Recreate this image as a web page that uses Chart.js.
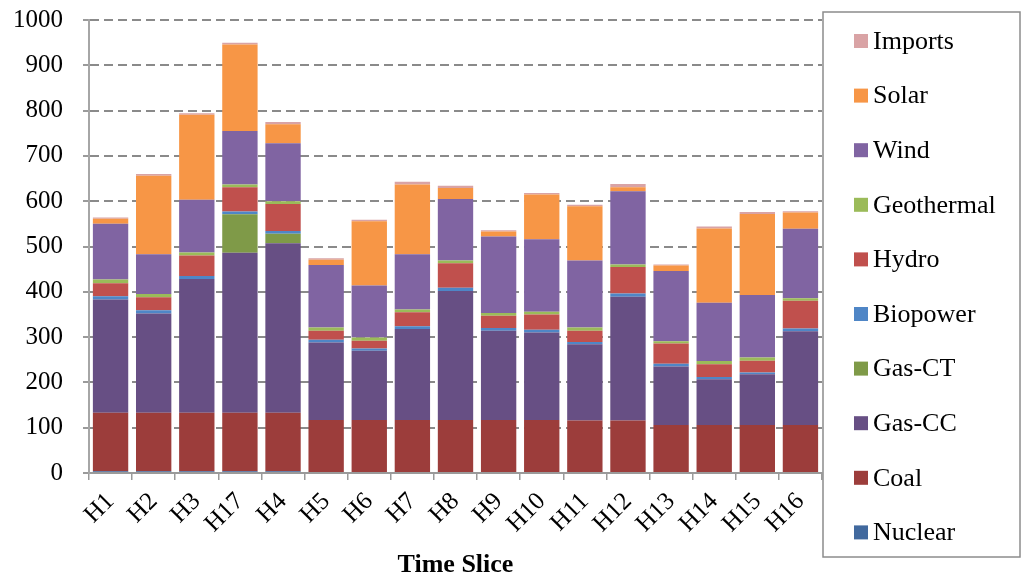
<!DOCTYPE html>
<html>
<head>
<meta charset="utf-8">
<script src="https://cdn.jsdelivr.net/npm/chart.js@4/dist/chart.umd.min.js"></script>
<style>
  body { margin: 0; background: #fff; }
  #wrap { width: 1028px; height: 578px; }
</style>
</head>
<body>
<div id="wrap"><canvas id="genChart" width="1028" height="578"></canvas></div>
<script>
// time slices, in the order they appear on the axis
const slices = ["H1", "H2", "H3", "H17", "H4", "H5", "H6", "H7", "H8", "H9", "H10", "H11", "H12", "H13", "H14", "H15", "H16"];
const yTicks = [0, 100, 200, 300, 400, 500, 600, 700, 800, 900, 1000];

// generation by technology (stacked bottom to top)
const nuclear    = [4, 4, 4, 4, 4, 2, 2, 2, 2, 2, 2, 2, 2, 2, 2, 2, 2];
const coal       = [129, 129, 129, 129, 129, 115, 115, 115, 115, 115, 115, 114, 114, 104, 104, 104, 104];
const gasCC      = [250, 219, 295, 353, 374, 171, 153, 201, 285, 197, 193, 168, 273, 129, 101, 112, 207];
const gasCT      = [0, 0, 0, 85, 21, 0, 0, 0, 0, 0, 0, 0, 0, 0, 0, 0, 0];
const biopower   = [7, 7, 7, 6, 6, 6, 5, 6, 7, 6, 6, 5, 7, 6, 5, 4, 6];
const hydro      = [29, 29, 45, 54, 60, 20, 17, 31, 54, 27, 34, 25, 59, 45, 28, 26, 61];
const geothermal = [8, 7, 7, 6, 6, 7, 7, 6, 6, 6, 6, 7, 5, 5, 7, 7, 6];
const wind       = [123, 88, 116, 118, 128, 138, 115, 122, 136, 169, 160, 148, 162, 155, 129, 138, 153];
const solar      = [11, 173, 188, 191, 42, 12, 142, 154, 24, 11, 99, 120, 9, 12, 164, 179, 36];
const imports    = [3, 4, 3, 4, 5, 3, 3, 6, 5, 3, 3, 3, 7, 2, 4, 4, 3];

const seriesNames  = ["Nuclear", "Coal", "Gas-CC", "Gas-CT", "Biopower", "Hydro", "Geothermal", "Wind", "Solar", "Imports"];
const seriesData   = [nuclear, coal, gasCC, gasCT, biopower, hydro, geothermal, wind, solar, imports];
const seriesColors = ["#41699e", "#9c3d3b", "#674f84", "#7f9a48", "#4f86c6", "#c0504d", "#9bbb59", "#8064a2", "#f79646", "#d9a3a5"];

const serif = "'Liberation Serif', 'Times New Roman', serif";

// boxed legend on the right, top entry = top of the stack
const boxLegend = {
  id: "boxLegend",
  afterDraw(chart) {
    const ctx = chart.ctx;
    const x0 = 823, y0 = 12, w = 197, h = 545;
    ctx.save();
    ctx.strokeStyle = "#8c8c8c";
    ctx.lineWidth = 1.5;
    ctx.strokeRect(x0, y0, w, h);
    ctx.font = "26px " + serif;
    ctx.textBaseline = "middle";
    ctx.fillStyle = "#000";
    const sets = chart.data.datasets.slice().reverse();
    sets.forEach(function (ds, i) {
      const cy = 41 + i * 54.6;
      ctx.fillStyle = ds.backgroundColor;
      ctx.fillRect(854, cy - 7, 14, 14);
      ctx.fillStyle = "#000";
      ctx.fillText(ds.label, 873, cy + 1);
    });
    ctx.restore();
  }
};

const ctx = document.getElementById("genChart").getContext("2d");
const genChart = new Chart(ctx, {
  type: "bar",
  data: {
    labels: slices,
    datasets: seriesNames.map(function (name, i) {
      return {
        label: name,
        data: seriesData[i],
        backgroundColor: seriesColors[i],
        borderWidth: 0,
        categoryPercentage: 0.82,
        barPercentage: 1
      };
    })
  },
  options: {
    responsive: false,
    animation: false,
    layout: { padding: { left: 0, right: 206, top: 20, bottom: 0 } },
    plugins: {
      legend: { display: false },
      tooltip: { enabled: false }
    },
    scales: {
      x: {
        stacked: true,
        grid: { drawOnChartArea: false, tickLength: 7, color: "#9a9a9a", lineWidth: 1.5 },
        border: { color: "#9a9a9a", width: 2 },
        ticks: {
          autoSkip: false,
          minRotation: 45,
          maxRotation: 45,
          padding: 7,
          color: "#000",
          font: { family: serif, size: 25 }
        },
        title: {
          display: true,
          text: "Time Slice",
          color: "#000",
          padding: { top: 0, bottom: 0 },
          font: { family: serif, size: 26, weight: "bold", lineHeight: 1 }
        },
        afterFit: function (scale) { scale.height = 105; }
      },
      y: {
        stacked: true,
        min: 0,
        max: 1000,
        afterBuildTicks: function (scale) {
          scale.ticks = yTicks.map(function (v) { return { value: v }; });
        },
        grid: { color: "#8a8a8a", lineWidth: 2, tickLength: 6, tickColor: "#9a9a9a" },
        border: { color: "#a6a6a6", width: 2, dash: [9, 5] },
        ticks: {
          padding: 20,
          color: "#000",
          font: { family: serif, size: 25 },
          callback: function (value) { return String(value); }
        },
        afterFit: function (scale) {
          scale.width = 89;
          scale.paddingTop = 0;
          scale.paddingBottom = 0;
        }
      }
    }
  },
  plugins: [boxLegend]
});
</script>
</body>
</html>
